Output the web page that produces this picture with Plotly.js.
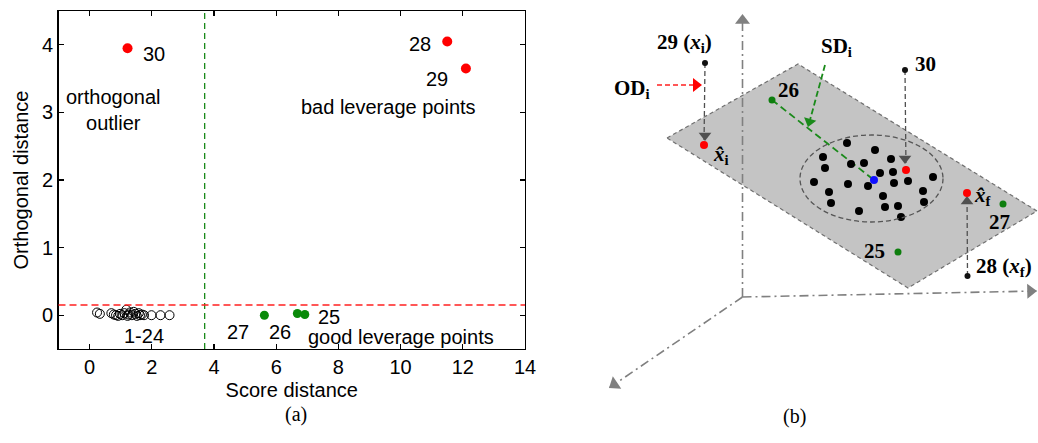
<!DOCTYPE html>
<html><head><meta charset="utf-8">
<script src="https://cdn.plot.ly/plotly-3.0.1.min.js"></script>
<style>html,body{margin:0;padding:0;background:#fff}#chart{width:1038px;height:443px}</style>
</head><body><div id="chart"></div><script>
// ---------------- Panel (a): outlier map data ----------------
const inlierSD = [0.24, 0.33, 0.70, 0.78, 0.85, 0.92, 0.98, 1.05, 1.12, 1.18, 1.22, 1.25, 1.30, 1.36, 1.42, 1.48, 1.52, 1.58, 1.62, 1.68, 1.75, 1.99, 2.28, 2.57];
const inlierOD = [0.04, 0.02, 0.03, 0.01, 0.00, -0.01, 0.02, 0.00, 0.03, 0.08, -0.01, 0.01, 0.04, 0.00, 0.05, 0.02, -0.01, 0.03, 0.00, 0.01, 0.00, 0.00, 0.00, 0.00];
const goodLevLabels = ['25', '26', '27'];
const goodLevSD = [6.92, 6.68, 5.62];
const goodLevOD = [0.01, 0.025, 0.00];
const badLabels = ['28', '29', '30'];
const badSD = [11.5, 12.1, 1.22];
const badOD = [4.05, 3.65, 3.95];
const sdCutoff = [3.7];
const odCutoff = [0.15];
const xTickVals = [0, 2, 4, 6, 8, 10, 12, 14];
const yTickVals = [0, 1, 2, 3, 4];

// ---------------- Panel (b): schematic (illustration coordinates) ----------------
const planeX = [667, 798, 1037, 908, 667];
const planeY = [138, 64, 211, 288, 138];
const cloudX = [847, 875, 823, 891, 825, 851, 864, 893, 880, 933, 814, 848, 868, 894, 908, 923, 829, 883, 924, 831, 885, 898, 859, 901];
const cloudY = [143, 150, 157, 159, 168, 164, 163, 172, 173, 177, 182, 184, 186, 183, 181, 191, 192, 196, 202, 203, 207, 206, 211, 217];
const centerX = [874], centerY = [180];
const rawLabels = ['29', '30', '28'];
const rawX = [705, 905, 967.5], rawY = [63, 70, 276];
const projX = [704, 906, 967], projY = [145, 170, 193];
const greenLabels = ['25', '26', '27'];
const greenX = [898, 772, 1003], greenY = [252, 100, 204];
const ellipseBox = [800, 943, 135, 222];
const axisOrigin = [742.5, 297];
const axisTips = [[742.5, 14], [1037, 291], [609, 388]];
// arrowheads: tip, a point behind it (direction), colour, size
const heads = [
  {tip: axisTips[0], from: axisOrigin, color: '#808080', size: 13},
  {tip: axisTips[1], from: axisOrigin, color: '#808080', size: 13},
  {tip: axisTips[2], from: axisOrigin, color: '#808080', size: 13},
  {tip: [705, 141], from: [705, 63], color: '#505050', size: 11},
  {tip: [905, 164], from: [905, 70], color: '#505050', size: 11},
  {tip: [967, 196], from: [967.5, 276], color: '#505050', size: 11},
  {tip: [702, 85], from: [657, 85], color: '#ff0000', size: 12},
  {tip: [808, 127], from: [825, 65], color: '#1a8a1a', size: 11}
];

const serif = 'Liberation Serif, Times New Roman, serif';
const sans = 'Liberation Sans, Arial, sans-serif';

const traces = [];
// (a) points
traces.push({x: inlierSD, y: inlierOD, xaxis: 'x', yaxis: 'y', mode: 'markers', type: 'scatter',
  marker: {symbol: 'circle-open', size: 9, color: '#000', line: {width: 1, color: '#000'}}});
traces.push({x: goodLevSD, y: goodLevOD, xaxis: 'x', yaxis: 'y', mode: 'markers', type: 'scatter',
  marker: {size: 9, color: '#0a8a0a'}});
traces.push({x: badSD, y: badOD, xaxis: 'x', yaxis: 'y', mode: 'markers', type: 'scatter',
  marker: {size: 10, color: '#ff0000'}});

// (b) plane
traces.push({x: planeX, y: planeY, xaxis: 'x2', yaxis: 'y2', mode: 'lines', type: 'scatter', fill: 'toself',
  fillcolor: '#c4c4c4', line: {color: '#707070', width: 1.2, dash: '4px,3px'}, hoverinfo: 'skip'});
// (b) coordinate axes (dash-dot)
axisTips.forEach(function (t) {
  traces.push({x: [axisOrigin[0], t[0]], y: [axisOrigin[1], t[1]], xaxis: 'x2', yaxis: 'y2', mode: 'lines', type: 'scatter',
    line: {color: '#808080', width: 1.6, dash: '9px,4px,2px,4px'}, hoverinfo: 'skip'});
});
// (b) projection connectors (raw point -> projected point)
for (let i = 0; i < rawX.length; i++) {
  traces.push({x: [rawX[i], projX[i]], y: [rawY[i], projY[i]], xaxis: 'x2', yaxis: 'y2', mode: 'lines', type: 'scatter',
    line: {color: '#505050', width: 1.3, dash: '5px,3px'}, hoverinfo: 'skip'});
}
// (b) score distance line from 26 to centre
traces.push({x: [greenX[1], centerX[0]], y: [greenY[1], centerY[0]], xaxis: 'x2', yaxis: 'y2', mode: 'lines', type: 'scatter',
  line: {color: '#1a8a1a', width: 1.8, dash: '7px,4px'}, hoverinfo: 'skip'});
// (b) OD pointer
traces.push({x: [657, 694], y: [85, 85], xaxis: 'x2', yaxis: 'y2', mode: 'lines', type: 'scatter',
  line: {color: '#ff2020', width: 1.6, dash: '5px,3px'}, hoverinfo: 'skip'});
// (b) SD pointer
traces.push({x: [825, 810], y: [65, 120], xaxis: 'x2', yaxis: 'y2', mode: 'lines', type: 'scatter',
  line: {color: '#1a8a1a', width: 1.8, dash: '6px,3px'}, hoverinfo: 'skip'});
// (b) arrowheads as rotated triangle markers
heads.forEach(function (h) {
  const dx = h.tip[0] - h.from[0], dy = h.tip[1] - h.from[1];
  const len = Math.sqrt(dx * dx + dy * dy), r = h.size / 2;
  traces.push({x: [h.tip[0] - r * dx / len], y: [h.tip[1] - r * dy / len], xaxis: 'x2', yaxis: 'y2', mode: 'markers', type: 'scatter',
    marker: {symbol: 'triangle-up', size: h.size, color: h.color, angle: Math.atan2(dx, -dy) * 180 / Math.PI, line: {width: 0}},
    hoverinfo: 'skip'});
});
// (b) points
traces.push({x: cloudX, y: cloudY, xaxis: 'x2', yaxis: 'y2', mode: 'markers', type: 'scatter', marker: {size: 8, color: '#000'}});
traces.push({x: rawX, y: rawY, xaxis: 'x2', yaxis: 'y2', mode: 'markers', type: 'scatter', marker: {size: 6, color: '#111'}});
traces.push({x: projX, y: projY, xaxis: 'x2', yaxis: 'y2', mode: 'markers', type: 'scatter', marker: {size: 8, color: '#ff0000'}});
traces.push({x: greenX, y: greenY, xaxis: 'x2', yaxis: 'y2', mode: 'markers', type: 'scatter', marker: {size: 7, color: '#0e7e0e'}});
traces.push({x: centerX, y: centerY, xaxis: 'x2', yaxis: 'y2', mode: 'markers', type: 'scatter', marker: {size: 8, color: '#1010ff'}});

const annotations = [];
// (a) labels
const fa = {family: sans, size: 20, color: '#000'};
[
  ['30', 2.08, 3.87], ['28', 10.62, 4.01], ['29', 11.18, 3.49],
  ['orthogonal<br>outlier', 0.77, 3.03], ['bad leverage points', 9.61, 3.08],
  ['1-24', 1.74, -0.31], ['27', 4.76, -0.25], ['26', 6.11, -0.25], ['25', 7.69, -0.02],
  ['good leverage points', 10.02, -0.32]
].forEach(function (a) {
  annotations.push({xref: 'x', yref: 'y', x: a[1], y: a[2], text: a[0], showarrow: false, font: fa, xanchor: 'center', yanchor: 'middle'});
});
// (b) labels
const fb = {family: serif, size: 21, color: '#000'};
[
  ['<b>29 (<i>x</i><sub>i</sub>)</b>', 684, 43], ['<b>OD<sub>i</sub></b>', 632, 89], ['<b>SD<sub>i</sub></b>', 836, 47],
  ['<b>26</b>', 788, 90], ['<b>30</b>', 925, 64], ['<b><i>x̂</i><sub>i</sub></b>', 721, 155],
  ['<b><i>x̂</i><sub>f</sub></b>', 983, 196], ['<b>27</b>', 999, 222], ['<b>25</b>', 874, 251],
  ['<b>28 (<i>x</i><sub>f</sub>)</b>', 1004, 267]
].forEach(function (a) {
  annotations.push({xref: 'x2', yref: 'y2', x: a[1], y: a[2], text: a[0], showarrow: false, font: fb, xanchor: 'center', yanchor: 'middle'});
});
// panel captions
annotations.push({xref: 'paper', yref: 'paper', x: 283 / 1038, y: 1 - 428 / 443, text: '(a)', showarrow: false, font: {family: serif, size: 20, color: '#000'}});
annotations.push({xref: 'paper', yref: 'paper', x: 808 / 1038, y: 1 - 430 / 443, text: '(b)', showarrow: false, font: {family: serif, size: 20, color: '#000'}});

const shapes = [
  {type: 'line', xref: 'x', yref: 'paper', x0: sdCutoff[0], x1: sdCutoff[0], y0: 1 - 349 / 443, y1: 1 - 11 / 443,
    line: {color: '#1a8a1a', width: 1.3, dash: '6px,4px'}},
  {type: 'line', xref: 'paper', yref: 'y', x0: 58.5 / 1038, x1: 525 / 1038, y0: odCutoff[0], y1: odCutoff[0],
    line: {color: '#ff2020', width: 1.5, dash: '7px,4px'}},
  {type: 'circle', xref: 'x2', yref: 'y2', x0: ellipseBox[0], x1: ellipseBox[1], y0: ellipseBox[2], y1: ellipseBox[3],
    line: {color: '#555', width: 1.3, dash: '5px,3px'}, layer: 'above'}
];

const axCommon = {showline: true, linecolor: '#000', linewidth: 1.3, mirror: 'ticks', ticks: 'inside', ticklen: 5,
  tickcolor: '#000', tickwidth: 1.3, showgrid: false, zeroline: false, tickfont: {family: sans, size: 20, color: '#000'}};

const layout = {
  width: 1038, height: 443, margin: {l: 0, r: 0, t: 0, b: 0}, paper_bgcolor: '#fff', plot_bgcolor: 'rgba(0,0,0,0)',
  showlegend: false, hovermode: false,
  xaxis: Object.assign({}, axCommon, {domain: [58.5 / 1038, 525 / 1038], range: [-1, 14], tickvals: xTickVals, anchor: 'y',
    title: {text: 'Score distance', font: {family: sans, size: 20, color: '#000'}, standoff: 5}}),
  yaxis: Object.assign({}, axCommon, {domain: [1 - 349 / 443, 1 - 11 / 443], range: [-0.5, 4.5], tickvals: yTickVals, anchor: 'x',
    title: {text: 'Orthogonal distance', font: {family: sans, size: 20, color: '#000'}, standoff: 8}}),
  xaxis2: {domain: [560 / 1038, 1], range: [560, 1038], visible: false, anchor: 'y2', fixedrange: true},
  yaxis2: {domain: [0, 1], range: [443, 0], visible: false, anchor: 'x2', fixedrange: true},
  shapes: shapes, annotations: annotations
};
Plotly.newPlot('chart', traces, layout, {displayModeBar: false, staticPlot: true});
</script></body></html>
